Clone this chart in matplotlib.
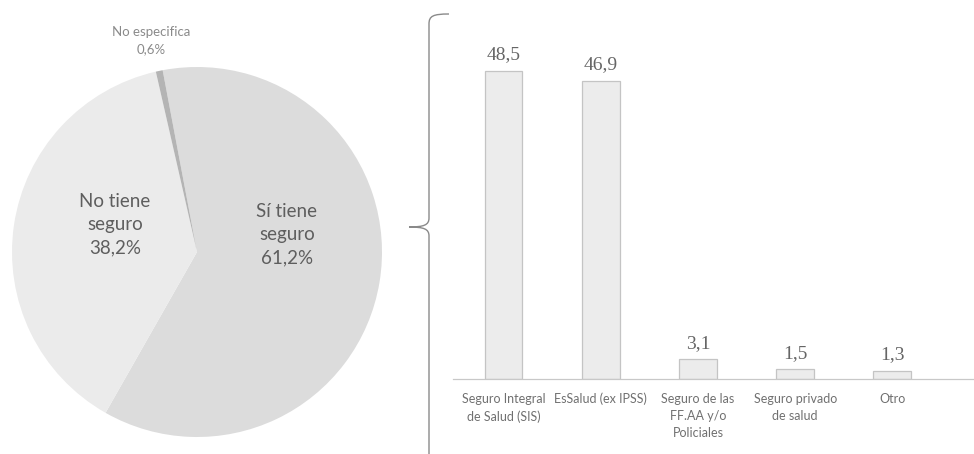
import numpy as np
import matplotlib
matplotlib.use('Agg')
import matplotlib.pyplot as plt
from matplotlib.path import Path
from matplotlib.patches import PathPatch

plt.rcParams['font.family'] = ['Lato', 'DejaVu Sans']

# pie: tenencia de seguro de salud
pie_labels = ['Sí tiene\nseguro\n61,2%', 'No tiene\nseguro\n38,2%', 'No especifica\n0,6%']
pie_vals = [61.2, 38.2, 0.6]
pie_colors = ['#dcdcdc', '#ebebeb', '#b4b4b4']

# barras: tipo de seguro
bar_cats = ['Seguro Integral\nde Salud (SIS)', 'EsSalud (ex IPSS)',
            'Seguro de las\nFF.AA y/o\nPoliciales', 'Seguro privado\nde salud', 'Otro']
bar_vals = [48.5, 46.9, 3.1, 1.5, 1.3]
bar_text = ['48,5', '46,9', '3,1', '1,5', '1,3']

W, H = 974, 454
fig = plt.figure(figsize=(W / 100, H / 100), dpi=100)

# --- pie ---
cx, cy, r = 197, 252, 185
ax1 = fig.add_axes([(cx - r) / W, (H - cy - r) / H, 2 * r / W, 2 * r / H])
wedges, _ = ax1.pie(pie_vals, colors=pie_colors, startangle=100.7, counterclock=False,
                    radius=1, wedgeprops=dict(edgecolor='none'))
ax1.set_xlim(-1, 1)
ax1.set_ylim(-1, 1)
ax1.set_aspect('equal')
ax1.axis('off')

ax1.text(0.486, 0.092, pie_labels[0], ha='center', va='center', fontsize=13.5,
         color='#5e5e5e', linespacing=1.45)
ax1.text(-0.443, 0.146, pie_labels[1], ha='center', va='center', fontsize=13.5,
         color='#5e5e5e', linespacing=1.45)
fig.text(151 / W, 1 - 41 / H, pie_labels[2], ha='center', va='center', fontsize=9.5,
         color='#8a8a8a', linespacing=1.5)

# --- llave ---
axb = fig.add_axes([0, 0, 1, 1])
axb.set_xlim(0, W)
axb.set_ylim(H, 0)
axb.axis('off')
verts = [(449, 14), (433, 14), (429, 16), (429, 24),
         (429, 218), (429, 225), (424, 227), (409, 227),
         (424, 227), (429, 229), (429, 236),
         (429, 454)]
codes = [Path.MOVETO, Path.CURVE4, Path.CURVE4, Path.CURVE4,
         Path.LINETO, Path.CURVE4, Path.CURVE4, Path.CURVE4,
         Path.CURVE4, Path.CURVE4, Path.CURVE4,
         Path.LINETO]
axb.add_patch(PathPatch(Path(verts, codes), fill=False, edgecolor='#8a8a8a', lw=1.0))

# --- barras ---
ax2 = fig.add_axes([453 / W, (H - 379) / H, (W - 453) / W, (379 - 20) / H])
x = np.arange(len(bar_vals))
ax2.bar(x, bar_vals, width=0.39, color='#ececec', edgecolor='#c4c4c4', linewidth=0.9)
for xi, v, t in zip(x, bar_vals, bar_text):
    ax2.text(xi, v + 1.2, t, ha='center', va='bottom', fontsize=14,
             color='#666666', family=['Liberation Serif', 'DejaVu Serif'])
ax2.set_xlim(-0.52, 4.84)
ax2.set_ylim(0, 56.5)
ax2.set_xticks(x)
ax2.set_xticklabels(bar_cats, fontsize=9, color='#707070', linespacing=1.5)
ax2.tick_params(axis='x', length=0, pad=10)
ax2.set_yticks([])
for s in ['top', 'right', 'left']:
    ax2.spines[s].set_visible(False)
ax2.spines['bottom'].set_color('#c8c8c8')
ax2.spines['bottom'].set_linewidth(0.9)
ax2.patch.set_alpha(0)

fig.savefig('out.png', dpi=100)
